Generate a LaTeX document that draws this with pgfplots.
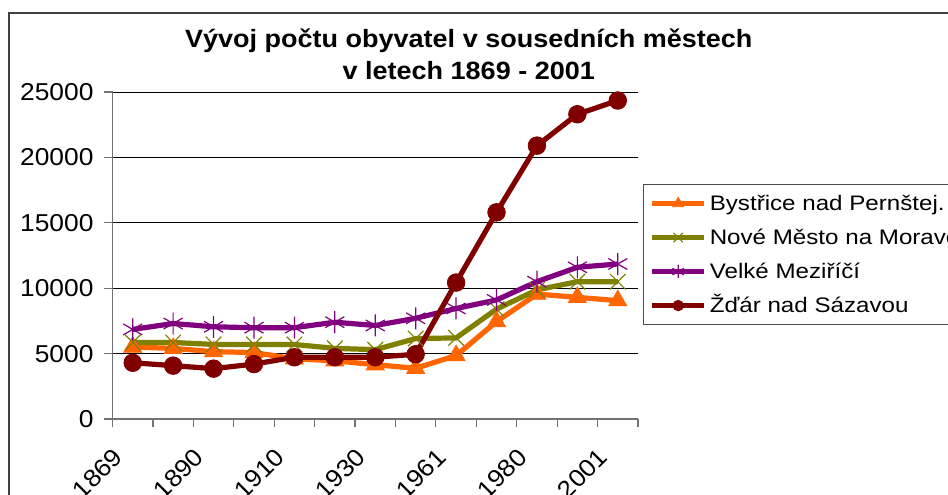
\documentclass[border=0pt]{standalone}
\usepackage{pgfplots}
\pgfplotsset{compat=1.18}
\usepackage{pgfplotstable}
\usepackage{fontspec}
\setmainfont{Liberation Sans}[FakeStretch=1.08]
\newfontfamily\legfont{Liberation Sans}[FakeStretch=1.15]
\definecolor{cOr}{RGB}{255,102,0}
\definecolor{cOl}{RGB}{128,128,0}
\definecolor{cPu}{RGB}{128,0,128}
\definecolor{cDr}{RGB}{128,0,0}
\pgfplotstableread{
x by nm vm zd
0 5500 5850 6850 4300
1 5400 5850 7300 4080
2 5150 5700 7050 3850
3 5080 5700 6980 4200
4 4600 5700 6980 4720
5 4450 5400 7400 4720
6 4150 5300 7150 4720
7 3880 6150 7700 4950
8 4850 6200 8450 10430
9 7450 8400 9100 15800
10 9550 9870 10500 20900
11 9300 10500 11600 23300
12 9050 10500 11850 24350
}\data
\begin{document}
\begin{tikzpicture}[x=1pt,y=1pt]
\path[use as bounding box, clip] (0,0) rectangle (474,247);
\draw[black!75, line width=0.8pt] (4.5,-5) -- (4.5,240.5) -- (480,240.5);
\begin{axis}[
  at={(56.25pt,37.5pt)}, anchor=south west,
  scale only axis, width=262.75pt, height=163.5pt,
  xmin=-0.5, xmax=12.5, ymin=0, ymax=25000,
  axis lines*=left, axis line style={black!55, line width=0.7pt},
  tick style={black!55, line width=0.6pt}, tick align=outside, major tick length=4pt,
  ytick={0,5000,10000,15000,20000,25000},
  scaled y ticks=false,
  /pgf/number format/.cd, set thousands separator={}, assume math mode=true, /pgfplots/.cd,
  ymajorgrids, major grid style={black, line width=0.5pt},
  xtick={-0.5,0.5,1.5,2.5,3.5,4.5,5.5,6.5,7.5,8.5,9.5,10.5,11.5,12.5},
  xticklabels={},
  extra x ticks={0,2,4,6,8,10,12},
  extra x tick labels={1869,1890,1910,1930,1961,1980,2001},
  extra x tick style={major tick length=0pt, grid=none,
     xticklabel style={rotate=45, anchor=north east, xshift=-13.5pt, yshift=1pt}},
  tick label style={font=\fontsize{12.2}{14}\selectfont, text=black},
  yticklabel style={xshift=-2pt},
  title={Vývoj počtu obyvatel v sousedních městech\\v letech 1869 - 2001},
  title style={at={(rel axis cs:0.678,1.159)}, anchor=north, inner sep=0pt, align=center,
     font=\bfseries\fontsize{12.5}{16}\selectfont},
  legend style={at={(rel axis cs:1.0095,0.7187)}, anchor=north west,
     draw=black!70, line width=0.6pt, font=\legfont\fontsize{10.5}{13}\selectfont,
     nodes={text height=9.5pt, text depth=2.5pt, inner sep=1.5pt},
     row sep=2pt, inner xsep=3pt, inner ysep=2pt},
  legend cell align=left,
  legend image code/.code={\draw[mark repeat=2, mark phase=2, /tikz/every mark/.append style={scale=0.6}]
     plot coordinates {(0pt,0pt) (13pt,0pt) (26pt,0pt)};},
]
\addplot[cOr, line width=2.6pt, mark=triangle*, mark size=5.2pt, mark options={solid, line width=0.4pt}] table[x=x,y=by]{\data};
\addlegendentry{Bystřice nad Pernštej.}
\addplot[cOl, line width=2.6pt, mark=x, mark size=5.5pt, mark options={solid, line width=0.6pt}] table[x=x,y=nm]{\data};
\addlegendentry{Nové Město na Moravě}
\addplot[cPu, line width=2.6pt, mark=asterisk, mark size=5.5pt, mark options={solid, line width=0.6pt}] table[x=x,y=vm]{\data};
\addlegendentry{Velké Meziříčí}
\addplot[cDr, line width=2.6pt, mark=*, mark size=4.4pt, mark options={solid, line width=0.4pt}] table[x=x,y=zd]{\data};
\addlegendentry{Žďár nad Sázavou}
\end{axis}
\end{tikzpicture}
\end{document}
